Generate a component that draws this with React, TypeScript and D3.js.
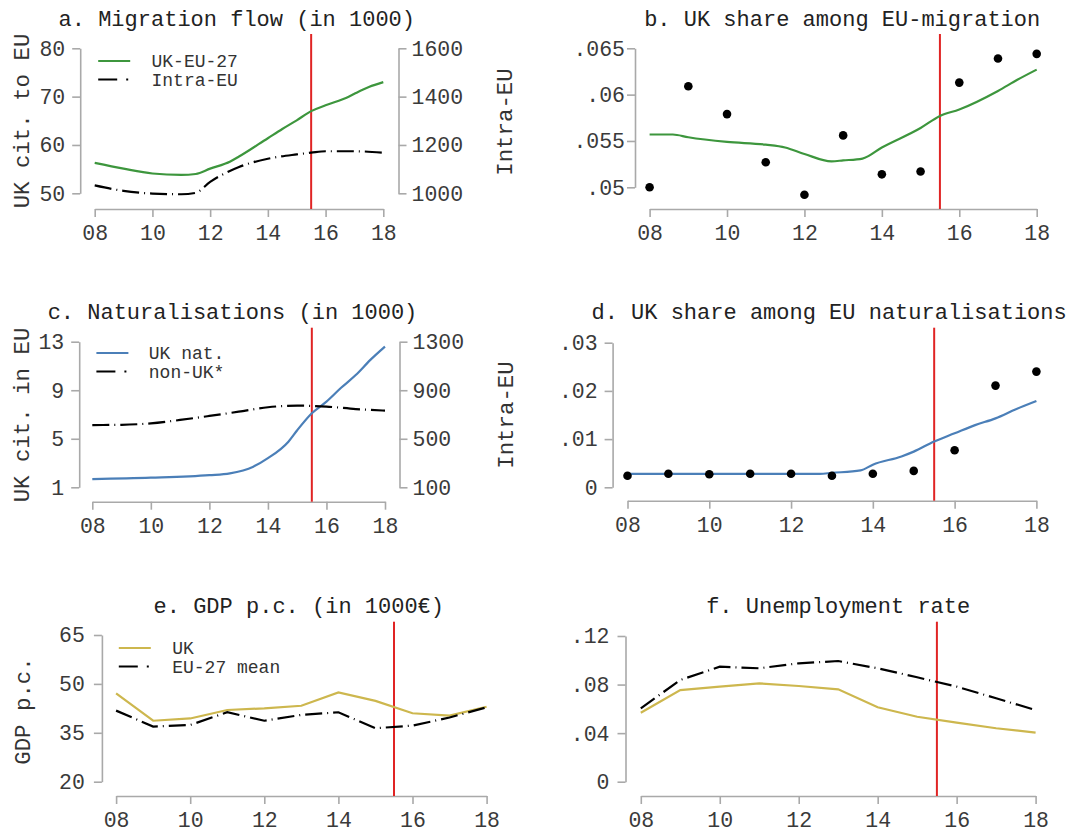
import * as d3 from "d3";
import { useEffect, useRef } from "react";

// ---- data (years 2008-2018, smoothed lines read at extra points where they bend)
const years = [2008, 2009, 2010, 2011, 2012, 2013, 2014, 2015, 2016, 2017, 2018];
const xTicks = [2008, 2010, 2012, 2014, 2016, 2018];
const referendum = 2015.5;

// a. migration flow
const ukEuYears = [2008, 2009, 2010, 2011, 2011.5, 2012, 2012.7, 2013, 2014, 2014.5, 2015, 2015.5, 2016, 2016.8, 2017, 2017.5, 2018];
const ukEuFlow = [56.3, 55.1, 54.1, 53.8, 54.0, 55.1, 56.6, 57.6, 61.4, 63.3, 65.1, 67.0, 68.2, 70.0, 70.6, 72.0, 73.0];
const intraEuYears = [2008, 2009, 2010, 2011, 2011.5, 2012, 2013, 2014, 2015, 2015.5, 2016, 2017, 2018];
const intraEuFlow = [1033, 1010, 999, 996, 1002, 1047, 1109, 1143, 1161, 1168, 1174, 1174, 1168];

// b. UK share among EU migration
const ukShareMig = [0.05, 0.0609, 0.0579, 0.0527, 0.0492, 0.0556, 0.0514, 0.0517, 0.0613, 0.0639, 0.0644];
const ukShareMigFitYears = [2008, 2008.6, 2009, 2010, 2011, 2011.5, 2012, 2012.7, 2013, 2013.5, 2014, 2015, 2015.5, 2016, 2017, 2017.5, 2018];
const ukShareMigFit = [0.0557, 0.0557, 0.0554, 0.0549, 0.0546, 0.0543, 0.0536, 0.0528, 0.0529, 0.0531, 0.0543, 0.0564, 0.0577, 0.0584, 0.0604, 0.0616, 0.0627];

// c. naturalisations
const ukNatYears = [2008, 2010, 2012, 2012.7, 2013.5, 2014, 2014.7, 2015, 2015.5, 2016, 2016.5, 2017, 2017.5, 2018];
const ukNat = [1.68, 1.79, 2.0, 2.15, 2.7, 3.4, 4.76, 5.7, 7.1, 8.06, 9.2, 10.25, 11.5, 12.6];
const nonUkNat = [613, 615, 627, 655, 688, 723, 760, 773, 765, 745, 732];

// d. UK share among EU naturalisations
const ukShareNat = [0.0024, 0.0028, 0.0027, 0.0028, 0.0028, 0.0024, 0.0028, 0.0034, 0.0077, 0.0211, 0.024];
const ukShareNatFitYears = [2008, 2010, 2012, 2012.7, 2013, 2013.7, 2014, 2014.7, 2015, 2015.5, 2016, 2016.5, 2017, 2017.5, 2018];
const ukShareNatFit = [0.0028, 0.0028, 0.0028, 0.0028, 0.003, 0.0035, 0.0047, 0.0064, 0.0074, 0.0095, 0.0112, 0.0129, 0.0143, 0.0162, 0.0179];

// e. GDP per capita
const gdpUk = [47.1, 38.7, 39.4, 42.0, 42.5, 43.3, 47.4, 44.8, 41.0, 40.3, 43.0];
const gdpEu = [41.8, 36.9, 37.4, 41.3, 38.7, 40.5, 41.3, 36.4, 37.2, 39.7, 42.8];

// f. unemployment
const unempUk = [0.0568, 0.0755, 0.0783, 0.081, 0.0788, 0.0761, 0.0613, 0.0535, 0.0486, 0.044, 0.0404];
const unempEu = [0.0604, 0.0838, 0.0947, 0.0934, 0.0975, 0.0994, 0.0934, 0.086, 0.0783, 0.0687, 0.059];

// tick values
const ticksA = [50, 60, 70, 80];
const ticksARight = [1000, 1200, 1400, 1600];
const ticksB = [0.05, 0.055, 0.06, 0.065];
const ticksC = [1, 5, 9, 13];
const ticksCRight = [100, 500, 900, 1300];
const ticksD = [0, 0.01, 0.02, 0.03];
const ticksE = [20, 35, 50, 65];
const ticksF = [0, 0.04, 0.08, 0.12];

const GREEN = "#3d963d";
const BLUE = "#4b7fb8";
const GOLD = "#cdb74e";
const RED = "#e02424";
const AXIS = "#a9a9a9";
const DASH = "17,5,1,5";
const FONT = "'Liberation Mono', 'Courier New', monospace";

const fmt = (v) => (v === 0 ? "0" : String(+v.toFixed(4)).replace(/^0\./, "."));
const yearFmt = (d) => String(d % 100).padStart(2, "0");

const App = () => {
    const ref = useRef(null);

    useEffect(() => {
        const svg = d3.select(ref.current);
        svg.selectAll("*").remove();

        const panel = (p) => {
            const g = svg.append("g");
            const x = d3.scaleLinear().domain([2008, 2018]).range([p.x0, p.x1]);
            const y = d3.scaleLinear().domain(p.yDomain).range([p.yBottom, p.yTop]);

            // x axis
            const xa = g.append("g")
                .attr("transform", `translate(0,${p.axisY})`)
                .call(d3.axisBottom(x).tickValues(xTicks).tickFormat(yearFmt).tickSize(8).tickSizeOuter(0).tickPadding(8));
            // left y axis
            const ya = g.append("g")
                .attr("transform", `translate(${p.yAxisX},0)`)
                .call(d3.axisLeft(y).tickValues(p.ticks).tickFormat(fmt).tickSize(8).tickSizeOuter(0).tickPadding(p.yPad));
            const axes = [xa, ya];

            let y2 = null;
            if (p.y2Domain) {
                y2 = d3.scaleLinear().domain(p.y2Domain).range([p.yBottom, p.yTop]);
                axes.push(g.append("g")
                    .attr("transform", `translate(${p.y2AxisX},0)`)
                    .call(d3.axisRight(y2).tickValues(p.ticks2).tickFormat(d3.format("d")).tickSize(8).tickSizeOuter(0).tickPadding(5)));
            }
            axes.forEach(a => {
                a.selectAll("path, line").attr("stroke", AXIS).attr("stroke-width", 1.6);
                a.selectAll("text").attr("font-family", FONT).attr("font-size", 21.5).attr("fill", "#3a3a3a");
            });

            // red referendum line
            g.append("line")
                .attr("x1", x(referendum)).attr("x2", x(referendum))
                .attr("y1", p.redTop).attr("y2", p.axisY)
                .attr("stroke", RED).attr("stroke-width", 2);

            // series
            p.series.forEach(s => {
                const sy = s.right ? y2 : y;
                const pts = s.xs.map((xv, i) => [x(xv), sy(s.vals[i])]);
                if (s.dots) {
                    g.selectAll(null).data(pts).enter().append("circle")
                        .attr("cx", d => d[0]).attr("cy", d => d[1]).attr("r", 4.3)
                        .attr("fill", "#000");
                } else {
                    g.append("path")
                        .attr("d", d3.line().curve(s.linear ? d3.curveLinear : d3.curveMonotoneX)(pts))
                        .attr("fill", "none")
                        .attr("stroke", s.color)
                        .attr("stroke-width", 2.2)
                        .attr("stroke-dasharray", s.dash ? DASH : null);
                }
            });

            // title
            g.append("text")
                .attr("x", p.titleX).attr("y", p.titleY).attr("dy", "0.35em")
                .attr("text-anchor", "middle")
                .attr("font-family", FONT).attr("font-size", 22).attr("fill", "#222")
                .text(p.title);

            // axis labels
            (p.labels || []).forEach(l => {
                g.append("text")
                    .attr("transform", `translate(${l.x},${l.y}) rotate(-90)`)
                    .attr("dy", "0.35em")
                    .attr("text-anchor", "middle")
                    .attr("font-family", FONT).attr("font-size", 22.4).attr("fill", "#333")
                    .text(l.text);
            });

            // legend
            if (p.legend) {
                p.legend.items.forEach((it, i) => {
                    const ly = p.legend.y + i * 18.5;
                    g.append("line")
                        .attr("x1", p.legend.x).attr("x2", p.legend.x + 32)
                        .attr("y1", ly).attr("y2", ly)
                        .attr("stroke", it.color).attr("stroke-width", 2.2)
                        .attr("stroke-dasharray", it.dash ? "19,9,2,9" : null);
                    g.append("text")
                        .attr("x", p.legend.tx).attr("y", ly).attr("dy", "0.35em")
                        .attr("font-family", FONT).attr("font-size", 18).attr("fill", "#333")
                        .text(it.label);
                });
            }
        };

        panel({
            x0: 94.7, x1: 383.3, axisY: 209, yAxisX: 80.2, yTop: 48.3, yBottom: 193.3, yDomain: [50, 80], ticks: ticksA, yPad: 7,
            y2AxisX: 398.5, y2Domain: [1000, 1600], ticks2: ticksARight, redTop: 34,
            title: "a. Migration flow (in 1000)", titleX: 236.8, titleY: 18,
            labels: [{ x: 21.4, y: 121, text: "UK cit. to EU" }, { x: 504.5, y: 122, text: "Intra-EU" }],
            legend: { x: 98.2, tx: 151.5, y: 61, items: [{ label: "UK-EU-27", color: GREEN }, { label: "Intra-EU", color: "#000", dash: true }] },
            series: [
                { xs: ukEuYears, vals: ukEuFlow, color: GREEN },
                { xs: intraEuYears, vals: intraEuFlow, color: "#000", dash: true, right: true },
            ],
        });

        panel({
            x0: 649.6, x1: 1036.7, axisY: 209, yAxisX: 635, yTop: 48.3, yBottom: 187.3, yDomain: [0.05, 0.065], ticks: ticksB, yPad: 2,
            redTop: 34,
            title: "b. UK share among EU-migration", titleX: 842.2, titleY: 18,
            series: [
                { xs: ukShareMigFitYears, vals: ukShareMigFit, color: GREEN },
                { xs: years, vals: ukShareMig, dots: true },
            ],
        });

        panel({
            x0: 92.3, x1: 385, axisY: 501.7, yAxisX: 79.2, yTop: 341.7, yBottom: 487.3, yDomain: [1, 13], ticks: ticksC, yPad: 7,
            y2AxisX: 399.5, y2Domain: [100, 1300], ticks2: ticksCRight, redTop: 327.7,
            title: "c. Naturalisations (in 1000)", titleX: 232.5, titleY: 311,
            labels: [{ x: 20.7, y: 415, text: "UK cit. in EU" }, { x: 505.5, y: 415, text: "Intra-EU" }],
            legend: { x: 96.4, tx: 148.8, y: 353, items: [{ label: "UK nat.", color: BLUE }, { label: "non-UK*", color: "#000", dash: true }] },
            series: [
                { xs: ukNatYears, vals: ukNat, color: BLUE },
                { xs: years, vals: nonUkNat, color: "#000", dash: true, right: true },
            ],
        });

        panel({
            x0: 627.5, x1: 1036.4, axisY: 500.7, yAxisX: 612.6, yTop: 342.7, yBottom: 487.3, yDomain: [0, 0.03], ticks: ticksD, yPad: 7,
            redTop: 327.7,
            title: "d. UK share among EU naturalisations", titleX: 829.1, titleY: 311,
            series: [
                { xs: ukShareNatFitYears, vals: ukShareNatFit, color: BLUE },
                { xs: years, vals: ukShareNat, dots: true },
            ],
        });

        panel({
            x0: 116.1, x1: 486.6, axisY: 796, yAxisX: 101.9, yTop: 635, yBottom: 781.7, yDomain: [20, 65], ticks: ticksE, yPad: 9,
            redTop: 621.7,
            title: "e. GDP p.c. (in 1000€)", titleX: 298.8, titleY: 605,
            labels: [{ x: 22.4, y: 711, text: "GDP p.c." }],
            legend: { x: 118.8, tx: 172.2, y: 648, items: [{ label: "UK", color: GOLD }, { label: "EU-27 mean", color: "#000", dash: true }] },
            series: [
                { xs: years, vals: gdpUk, color: GOLD, linear: true },
                { xs: years, vals: gdpEu, color: "#000", dash: true, linear: true },
            ],
        });

        panel({
            x0: 640.8, x1: 1035.6, axisY: 796, yAxisX: 625.5, yTop: 636, yBottom: 781.7, yDomain: [0, 0.12], ticks: ticksF, yPad: 8,
            redTop: 621.7,
            title: "f. Unemployment rate", titleX: 838.2, titleY: 605,
            series: [
                { xs: years, vals: unempUk, color: GOLD, linear: true },
                { xs: years, vals: unempEu, color: "#000", dash: true, linear: true },
            ],
        });
    }, []);

    return (
        <svg ref={ref} width={1076} height={832}
            style={{ position: "absolute", left: 0, top: 0, background: "#fff" }}></svg>
    );
};

export default App;
